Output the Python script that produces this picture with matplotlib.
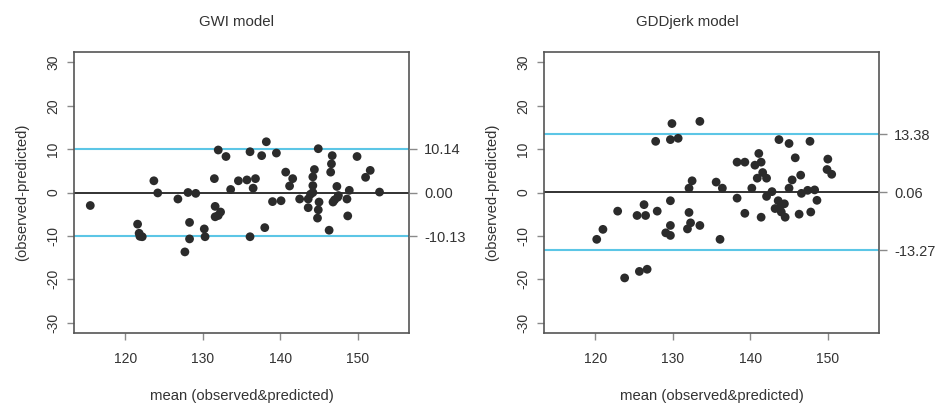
import matplotlib
matplotlib.use("Agg")
import matplotlib.pyplot as plt

plt.rcParams["font.family"] = ["Liberation Sans", "DejaVu Sans"]

# GWI model: mean of observed & predicted vs difference
gwi_mean = [115.5, 121.6, 121.8, 121.9, 122.2, 123.7, 124.2, 126.8, 128.1, 129.1,
            128.3, 128.3, 127.7, 130.2, 130.3, 131.5, 131.6, 131.6, 132.0, 132.3,
            132.0, 133.0, 133.6, 134.6, 135.7, 136.1, 136.5, 136.8, 136.1, 137.6,
            138.2, 138.0, 139.5, 139.0, 140.1, 140.7, 141.2, 141.6, 142.5, 143.6,
            143.6, 143.9, 144.2, 144.2, 144.2, 144.4, 144.9, 145.0, 144.9, 144.8,
            146.3, 146.7, 146.6, 146.5, 146.8, 147.0, 147.3, 147.4, 147.5, 148.6,
            148.7, 148.9, 149.9, 151.0, 151.6, 152.8]
gwi_diff = [-3.0, -7.3, -9.4, -10.1, -10.2, 2.7, -0.1, -1.5, 0.0, -0.2,
            -6.9, -10.7, -13.7, -8.4, -10.2, 3.2, -3.2, -5.6, -5.3, -4.5,
            9.8, 8.3, 0.7, 2.7, 2.9, 9.4, 1.0, 3.2, -10.2, 8.5,
            11.7, -8.1, 9.1, -2.1, -1.9, 4.7, 1.5, 3.2, -1.5, -1.5,
            -3.5, -0.4, 0.0, 1.6, 3.6, 5.3, 10.1, -2.2, -4.0, -5.9,
            -8.7, 8.5, 6.6, 4.7, -2.2, -1.7, 1.4, -1.1, -0.7, -1.5,
            -5.4, 0.5, 8.3, 3.5, 5.1, 0.1]
gwi_bias = 0.00
gwi_upper = 10.14
gwi_lower = -10.13

# GDDjerk model
gdd_mean = [120.2, 121.0, 122.9, 123.8, 125.4, 125.7, 126.7, 126.3, 126.5, 127.8,
            128.0, 129.1, 129.7, 129.7, 129.7, 129.7, 129.9, 130.7, 131.9, 132.1,
            132.1, 132.3, 132.5, 133.5, 133.5, 135.6, 136.4, 136.1, 138.3, 138.3,
            139.3, 139.3, 140.2, 140.6, 140.9, 141.1, 141.4, 141.6, 141.4, 142.1,
            142.1, 142.8, 143.2, 143.6, 143.7, 144.0, 144.0, 144.4, 144.5, 145.0,
            145.0, 145.4, 145.8, 146.3, 146.5, 146.6, 147.7, 147.4, 147.8, 148.3,
            148.6, 150.0, 149.9, 150.5]
gdd_diff = [-10.8, -8.5, -4.3, -19.7, -5.3, -18.2, -17.7, -2.8, -5.3, 11.8,
            -4.3, -9.3, -9.9, -7.6, -1.9, 12.2, 15.9, 12.5, -8.4, 1.0,
            -4.6, -7.0, 2.7, 16.4, -7.6, 2.4, 1.0, -10.8, 7.0, -1.3,
            7.0, -4.8, 1.0, 6.3, 3.3, 9.0, 7.0, 4.6, -5.7, 3.3,
            -0.9, 0.2, -3.7, -1.9, 12.2, -2.9, -4.5, -2.6, -5.7, 11.3,
            1.0, 2.9, 8.0, -5.0, 4.0, -0.2, 11.8, 0.5, -4.5, 0.6,
            -1.8, 7.7, 5.3, 4.2]
gdd_bias = 0.06
gdd_upper = 13.38
gdd_lower = -13.27

x_ticks = [120, 130, 140, 150]
y_ticks = [-30, -20, -10, 0, 10, 20, 30]

POINT_COLOR = "#2b2b2b"
LIMIT_COLOR = "#5cc6e6"
SPINE_COLOR = "#555555"
TICK_COLOR = "#8a8a8a"
TEXT_COLOR = "#333333"

W, H = 938, 403
fig = plt.figure(figsize=(W / 100, H / 100), dpi=100)
fig.patch.set_facecolor("white")


def panel(left_px, title, title_x, xs, ys, bias, upper, lower):
    ax = fig.add_axes([left_px / W, (H - 333) / H, 335 / W, 281 / H])
    ax.scatter(xs, ys, s=40, color=POINT_COLOR, edgecolors="none", zorder=3)
    ax.axhline(bias, color="#222222", lw=1.3, zorder=2)
    ax.axhline(upper, color=LIMIT_COLOR, lw=1.5, zorder=2)
    ax.axhline(lower, color=LIMIT_COLOR, lw=1.5, zorder=2)

    # R style axes: 4% padding on fixed limits
    ax.set_xlim(115 - 1.6, 155 + 1.6)
    ax.set_ylim(-32.4, 32.4)
    ax.set_xticks(x_ticks)
    ax.set_yticks(y_ticks)
    ax.set_yticklabels([str(t) for t in y_ticks], rotation=90, va="center")
    ax.tick_params(axis="x", length=5, width=1, color=TICK_COLOR,
                   labelsize=10, labelcolor=TEXT_COLOR, pad=9)
    ax.tick_params(axis="y", length=5, width=1, color=TICK_COLOR,
                   labelsize=10, labelcolor=TEXT_COLOR, pad=5)
    for s in ax.spines.values():
        s.set_color(SPINE_COLOR)
        s.set_linewidth(1.2)

    # limits of agreement on right side
    ax2 = ax.twinx()
    ax2.set_ylim(ax.get_ylim())
    ax2.set_yticks([upper, bias, lower])
    ax2.set_yticklabels([f"{upper:.2f}", f"{bias:.2f}", f"{lower:.2f}"])
    ax2.tick_params(axis="y", length=6, width=1, color=TICK_COLOR,
                    labelsize=10.5, labelcolor=TEXT_COLOR, pad=5)
    for s in ax2.spines.values():
        s.set_visible(False)

    ax.set_xlabel("mean (observed&predicted)", fontsize=10.7, color=TEXT_COLOR,
                  labelpad=16)
    ax.set_ylabel("(observed-predicted)", fontsize=10.7, color=TEXT_COLOR,
                  labelpad=12)
    fig.text(title_x / W, 1 - 22 / H, title, ha="center", va="center",
             fontsize=10.8, color=TEXT_COLOR)
    return ax


panel(74, "GWI model", 236, gwi_mean, gwi_diff, gwi_bias, gwi_upper, gwi_lower)
panel(544, "GDDjerk model", 687, gdd_mean, gdd_diff, gdd_bias, gdd_upper, gdd_lower)

fig.savefig("out.png", dpi=100)
